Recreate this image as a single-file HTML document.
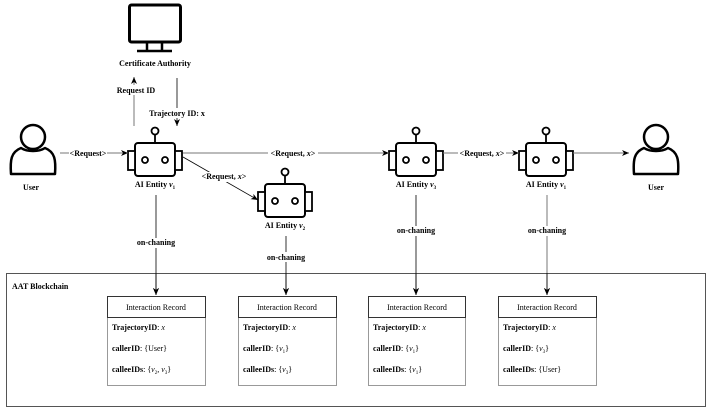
<!DOCTYPE html>
<html><head><meta charset="utf-8"><style>
html,body{margin:0;padding:0;background:#fff;}
svg{display:block;}
text{font-family:"Liberation Serif",serif;font-size:8px;fill:#000;}
.b{font-weight:bold;}
</style></head><body>
<svg width="713" height="410" viewBox="0 0 713 410" xmlns="http://www.w3.org/2000/svg">
<defs>
<marker id="ar" markerWidth="8" markerHeight="8" refX="7" refY="4" orient="auto" markerUnits="userSpaceOnUse">
<path d="M0,1 L7,4 L0,7 L2,4 Z" fill="#000"/></marker>
<g id="robot">
<circle cx="0" cy="-22" r="3.5" fill="#fff" stroke="#000" stroke-width="1.8"/>
<line x1="0" y1="-18.5" x2="0" y2="-10" stroke="#000" stroke-width="1.8"/>
<rect x="-20" y="-10" width="40" height="33" rx="3" fill="#fff" stroke="#000" stroke-width="2"/>
<rect x="-27" y="-2" width="7" height="19" fill="#fff" stroke="#000" stroke-width="1.8"/>
<rect x="20" y="-2" width="7" height="19" fill="#fff" stroke="#000" stroke-width="1.8"/>
<circle cx="-10" cy="7" r="3" fill="none" stroke="#000" stroke-width="1.8"/>
<circle cx="10" cy="7" r="3" fill="none" stroke="#000" stroke-width="1.8"/>
</g>
<g id="user">
<circle cx="0" cy="-9" r="12" fill="#fff" stroke="#000" stroke-width="2.5"/>
<path d="M-12,2 C-22,6 -23,14 -22,28 L22,28 C23,14 22,6 12,2 C6,6 -6,6 -12,2 Z" fill="#fff" stroke="#000" stroke-width="2.5" stroke-linejoin="round"/>
</g>
</defs>

<!-- monitor -->
<rect x="129.5" y="5" width="51" height="37" rx="2" fill="none" stroke="#000" stroke-width="3"/>
<line x1="147" y1="42" x2="147" y2="51" stroke="#000" stroke-width="2.5"/>
<line x1="162" y1="42" x2="162" y2="51" stroke="#000" stroke-width="2.5"/>
<line x1="137" y1="51" x2="172" y2="51" stroke="#000" stroke-width="2.5"/>
<text x="155" y="66" text-anchor="middle" class="b">Certificate Authority</text>

<line x1="134" y1="126" x2="134" y2="77" stroke="#777" stroke-width="1" marker-end="url(#ar)"/>
<rect x="112" y="85" width="48" height="10" fill="#fff"/>
<text x="136" y="93" text-anchor="middle" class="b">Request ID</text>
<line x1="177" y1="78" x2="177" y2="126" stroke="#000" stroke-width="0.8" marker-end="url(#ar)"/>
<rect x="146" y="108" width="62" height="10" fill="#fff"/>
<text x="177" y="116" text-anchor="middle" class="b">Trajectory ID: x</text>

<!-- users -->
<use href="#user" x="33" y="146"/>
<text x="31" y="190" text-anchor="middle" class="b">User</text>
<use href="#user" x="656" y="146"/>
<text x="656" y="190" text-anchor="middle" class="b">User</text>

<!-- robots -->
<use href="#robot" x="155" y="153"/>
<text x="155" y="187" text-anchor="middle" class="b">AI Entity <tspan font-style="italic">v</tspan><tspan font-size="5" dy="2">1</tspan></text>
<use href="#robot" x="285" y="194"/>
<text x="285" y="228" text-anchor="middle" class="b">AI Entity <tspan font-style="italic">v</tspan><tspan font-size="5" dy="2">2</tspan></text>
<use href="#robot" x="416" y="153"/>
<text x="416" y="187" text-anchor="middle" class="b">AI Entity <tspan font-style="italic">v</tspan><tspan font-size="5" dy="2">3</tspan></text>
<use href="#robot" x="546" y="153"/>
<text x="546" y="187" text-anchor="middle" class="b">AI Entity <tspan font-style="italic">v</tspan><tspan font-size="5" dy="2">1</tspan></text>

<!-- horizontal arrows -->
<line x1="60" y1="153" x2="128" y2="153" stroke="#777" stroke-width="1" marker-end="url(#ar)"/>
<rect x="69" y="148" width="38" height="10" fill="#fff"/>
<text x="88" y="156" text-anchor="middle" class="b">&lt;Request&gt;</text>
<line x1="183" y1="153" x2="389" y2="153" stroke="#777" stroke-width="1" marker-end="url(#ar)"/>
<rect x="268" y="148" width="50" height="10" fill="#fff"/>
<text x="293" y="156" text-anchor="middle" class="b">&lt;Request, <tspan font-style="italic">x</tspan>&gt;</text>
<line x1="443" y1="153" x2="519" y2="153" stroke="#777" stroke-width="1" marker-end="url(#ar)"/>
<rect x="458" y="148" width="48" height="10" fill="#fff"/>
<text x="482" y="156" text-anchor="middle" class="b">&lt;Request, <tspan font-style="italic">x</tspan>&gt;</text>
<line x1="573" y1="153" x2="629" y2="153" stroke="#777" stroke-width="1" marker-end="url(#ar)"/>
<line x1="183" y1="157" x2="258" y2="200" stroke="#000" stroke-width="0.8" marker-end="url(#ar)"/>
<rect x="199" y="172" width="50" height="10" fill="#fff"/>
<text x="224" y="179" text-anchor="middle" class="b">&lt;Request, <tspan font-style="italic">x</tspan>&gt;</text>

<!-- on-chaining -->
<line x1="156" y1="195" x2="156" y2="295" stroke="#000" stroke-width="0.8" marker-end="url(#ar)"/>
<rect x="132" y="238" width="48" height="10" fill="#fff"/>
<text x="156" y="245" text-anchor="middle" class="b">on-chaning</text>
<line x1="286" y1="236" x2="286" y2="295" stroke="#000" stroke-width="0.8" marker-end="url(#ar)"/>
<rect x="262" y="252" width="48" height="10" fill="#fff"/>
<text x="286" y="260" text-anchor="middle" class="b">on-chaning</text>
<line x1="416" y1="195" x2="416" y2="295" stroke="#000" stroke-width="0.8" marker-end="url(#ar)"/>
<rect x="392" y="226" width="48" height="10" fill="#fff"/>
<text x="416" y="233" text-anchor="middle" class="b">on-chaning</text>
<line x1="547" y1="195" x2="547" y2="295" stroke="#777" stroke-width="1" marker-end="url(#ar)"/>
<rect x="523" y="226" width="48" height="10" fill="#fff"/>
<text x="547" y="233" text-anchor="middle" class="b">on-chaning</text>

<!-- blockchain -->
<rect x="6.5" y="273.5" width="699" height="133" fill="none" stroke="#555" stroke-width="1"/>
<text x="12" y="289" class="b">AAT Blockchain</text>
<line x1="156" y1="273" x2="156" y2="295" stroke="#000" stroke-width="0.8" marker-end="url(#ar)"/>
<line x1="286" y1="273" x2="286" y2="295" stroke="#000" stroke-width="0.8" marker-end="url(#ar)"/>
<line x1="416" y1="273" x2="416" y2="295" stroke="#000" stroke-width="0.8" marker-end="url(#ar)"/>
<line x1="547" y1="273" x2="547" y2="295" stroke="#000" stroke-width="0.8" marker-end="url(#ar)"/>

<g font-size="8">
<g transform="translate(107,296)">
<rect x="0.5" y="0.5" width="98" height="89" fill="#fff" stroke="#999"/>
<rect x="0.5" y="0.5" width="98" height="21" fill="#fff" stroke="#333"/>
<text x="49" y="14" text-anchor="middle">Interaction Record</text>
<text x="5" y="34"><tspan class="b">TrajectoryID</tspan>: <tspan font-style="italic">x</tspan></text>
<text x="5" y="55"><tspan class="b">callerID</tspan>: {User}</text>
<text x="5" y="76"><tspan class="b">calleeIDs</tspan>: {<tspan font-style="italic">v</tspan><tspan font-size="5" dy="2">2</tspan><tspan dy="-2">, </tspan><tspan font-style="italic">v</tspan><tspan font-size="5" dy="2">3</tspan><tspan dy="-2">}</tspan></text>
</g>
<g transform="translate(238,296)">
<rect x="0.5" y="0.5" width="98" height="89" fill="#fff" stroke="#999"/>
<rect x="0.5" y="0.5" width="98" height="21" fill="#fff" stroke="#333"/>
<text x="49" y="14" text-anchor="middle">Interaction Record</text>
<text x="5" y="34"><tspan class="b">TrajectoryID</tspan>: <tspan font-style="italic">x</tspan></text>
<text x="5" y="55"><tspan class="b">callerID</tspan>: {<tspan font-style="italic">v</tspan><tspan font-size="5" dy="2">1</tspan><tspan dy="-2">}</tspan></text>
<text x="5" y="76"><tspan class="b">calleeIDs</tspan>: {<tspan font-style="italic">v</tspan><tspan font-size="5" dy="2">3</tspan><tspan dy="-2">}</tspan></text>
</g>
<g transform="translate(368,296)">
<rect x="0.5" y="0.5" width="97" height="89" fill="#fff" stroke="#999"/>
<rect x="0.5" y="0.5" width="97" height="21" fill="#fff" stroke="#333"/>
<text x="49" y="14" text-anchor="middle">Interaction Record</text>
<text x="5" y="34"><tspan class="b">TrajectoryID</tspan>: <tspan font-style="italic">x</tspan></text>
<text x="5" y="55"><tspan class="b">callerID</tspan>: {<tspan font-style="italic">v</tspan><tspan font-size="5" dy="2">1</tspan><tspan dy="-2">}</tspan></text>
<text x="5" y="76"><tspan class="b">calleeIDs</tspan>: {<tspan font-style="italic">v</tspan><tspan font-size="5" dy="2">1</tspan><tspan dy="-2">}</tspan></text>
</g>
<g transform="translate(498,296)">
<rect x="0.5" y="0.5" width="98" height="89" fill="#fff" stroke="#999"/>
<rect x="0.5" y="0.5" width="98" height="21" fill="#fff" stroke="#333"/>
<text x="49" y="14" text-anchor="middle">Interaction Record</text>
<text x="5" y="34"><tspan class="b">TrajectoryID</tspan>: <tspan font-style="italic">x</tspan></text>
<text x="5" y="55"><tspan class="b">callerID</tspan>: {<tspan font-style="italic">v</tspan><tspan font-size="5" dy="2">3</tspan><tspan dy="-2">}</tspan></text>
<text x="5" y="76"><tspan class="b">calleeIDs</tspan>: {User}</text>
</g>
</g>
</svg>
</body></html>
